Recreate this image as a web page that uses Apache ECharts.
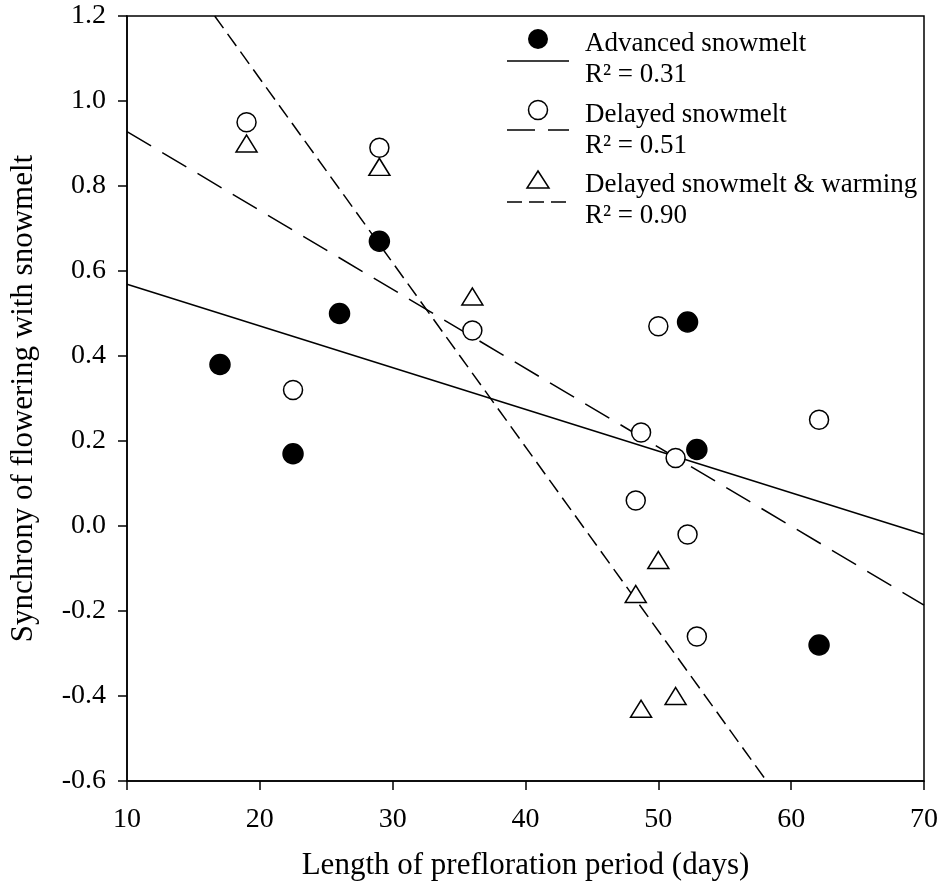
<!DOCTYPE html>
<html>
<head>
<meta charset="utf-8">
<script src="https://cdn.jsdelivr.net/npm/echarts@6/dist/echarts.min.js"></script>
<style>
html,body{margin:0;padding:0;background:#fff;}
#chart{width:941px;height:890px;}
</style>
</head>
<body>
<div id="chart"></div>
<script>
// ---- data ----
var advancedX = [17, 22.5, 26, 29, 52.2, 52.9, 62.1];
var advancedY = [0.38, 0.17, 0.50, 0.67, 0.48, 0.18, -0.28];

var delayedX = [19, 22.5, 29, 36, 50, 48.7, 51.3, 48.3, 52.2, 52.9, 62.1];
var delayedY = [0.95, 0.32, 0.89, 0.46, 0.47, 0.22, 0.16, 0.06, -0.02, -0.26, 0.25];

var warmingX = [19, 29, 36, 50, 48.3, 51.3, 48.7];
var warmingY = [0.90, 0.845, 0.54, -0.08, -0.16, -0.40, -0.43];

// fitted regression line endpoints
var advancedFitX = [10, 70];
var advancedFitY = [0.569, -0.020];
var delayedFitX = [10, 70];
var delayedFitY = [0.928, -0.186];
var warmingFitX = [16.6, 58.15];
var warmingFitY = [1.2, -0.6];

var xTicks = [10, 20, 30, 40, 50, 60, 70];
var yTicks = ['-0.6', '-0.4', '-0.2', '0.0', '0.2', '0.4', '0.6', '0.8', '1.0', '1.2'];

var legendNames = ['Advanced snowmelt', 'Delayed snowmelt', 'Delayed snowmelt & warming'];
var legendR2 = ['0.31', '0.51', '0.90'];

function zip(xs, ys) { return xs.map(function (x, i) { return [x, ys[i]]; }); }

var FONT = '"Liberation Serif", "Times New Roman", serif';
var chart = echarts.init(document.getElementById('chart'));

var legendGraphics = [];
var legendY = [39, 110, 180];
var lineY = [61, 130, 202];
var dashes = [null, [28, 13], [15, 7]];
for (var i = 0; i < 3; i++) {
  var cy = legendY[i];
  if (i === 0) {
    legendGraphics.push({type: 'circle', shape: {cx: 538, cy: cy, r: 10}, style: {fill: '#000'}});
  } else if (i === 1) {
    legendGraphics.push({type: 'circle', shape: {cx: 538, cy: cy, r: 9.5}, style: {fill: '#fff', stroke: '#000', lineWidth: 1.5}});
  } else {
    legendGraphics.push({type: 'polygon', shape: {points: [[538, cy - 9], [527, cy + 8], [549, cy + 8]]}, style: {fill: '#fff', stroke: '#000', lineWidth: 1.5}});
  }
  legendGraphics.push({type: 'line', shape: {x1: 507, y1: lineY[i], x2: 569, y2: lineY[i]},
    style: {stroke: '#000', lineWidth: 1.5, lineDash: dashes[i]}});
  legendGraphics.push({type: 'text', x: 585, y: cy + 5, style: {text: legendNames[i], font: '27px ' + FONT, fill: '#000', verticalAlign: 'middle'}});
  legendGraphics.push({type: 'text', x: 585, y: cy + 36, style: {text: 'R\u00B2 = ' + legendR2[i], font: '27px ' + FONT, fill: '#000', verticalAlign: 'middle'}});
}

function scatterSeries(xs, ys, symbol, size, fill) {
  return {
    type: 'scatter', data: zip(xs, ys), symbol: symbol, symbolSize: size, z: 5,
    itemStyle: {color: fill, borderColor: '#000', borderWidth: 1.5, opacity: 1},
    emphasis: {disabled: true}
  };
}
function fitSeries(xs, ys, dash) {
  return {
    type: 'line', data: zip(xs, ys), showSymbol: false, symbol: 'none', clip: true, z: 3,
    lineStyle: {color: '#000', width: 1.5, type: dash}, animation: false
  };
}

chart.setOption({
  animation: false,
  backgroundColor: '#fff',
  grid: {left: 123, right: 16, top: 16, bottom: 109, show: true, borderColor: '#000', borderWidth: 1.5, backgroundColor: 'transparent'},
  xAxis: {
    type: 'value', min: 10, max: 70, interval: 10,
    name: 'Length of prefloration period (days)', nameLocation: 'middle', nameGap: 69,
    nameTextStyle: {fontFamily: FONT, fontSize: 31, color: '#000'},
    axisLine: {show: true, onZero: false, lineStyle: {color: '#000', width: 1.5}},
    axisTick: {show: true, inside: false, length: 9, lineStyle: {color: '#000', width: 1.5}},
    axisLabel: {fontFamily: FONT, fontSize: 28, color: '#000', margin: 25,
      formatter: function (v) { return xTicks.indexOf(v) >= 0 ? String(v) : ''; }},
    splitLine: {show: false}
  },
  yAxis: {
    type: 'value', min: -0.6, max: 1.2, interval: 0.2,
    name: 'Synchrony of flowering with snowmelt', nameLocation: 'middle', nameGap: 88,
    nameTextStyle: {fontFamily: FONT, fontSize: 31, color: '#000'},
    axisLine: {show: true, onZero: false, lineStyle: {color: '#000', width: 1.5}},
    axisTick: {show: true, inside: false, length: 9, lineStyle: {color: '#000', width: 1.5}},
    axisLabel: {fontFamily: FONT, fontSize: 28, color: '#000', margin: 21, padding: [7, 0, 0, 0],
      formatter: function (v) {
        var r = Math.round(v * 10) / 10; if (Math.abs(r) < 1e-9) r = 0;
        var s = r.toFixed(1);
        return yTicks.indexOf(s) >= 0 ? s : '';
      }},
    splitLine: {show: false}
  },
  series: [
    fitSeries(advancedFitX, advancedFitY, 'solid'),
    fitSeries(delayedFitX, delayedFitY, [28, 13]),
    fitSeries(warmingFitX, warmingFitY, [15, 7]),
    scatterSeries(advancedX, advancedY, 'circle', 20, '#000'),
    scatterSeries(delayedX, delayedY, 'circle', 19, '#fff'),
    scatterSeries(warmingX, warmingY, 'triangle', [21, 17], '#fff')
  ],
  graphic: legendGraphics
});
</script>
</body>
</html>
